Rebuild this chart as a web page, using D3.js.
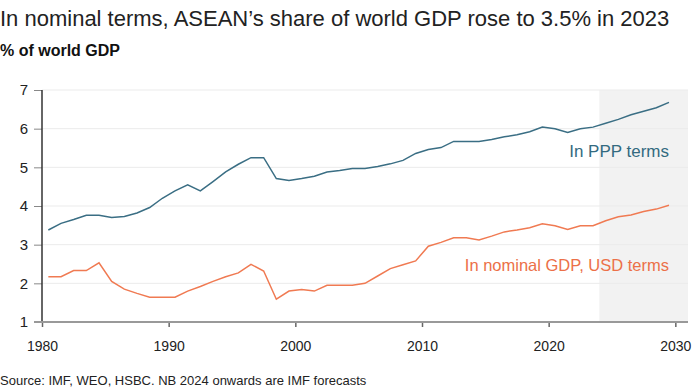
<!DOCTYPE html>
<html>
<head>
<meta charset="utf-8">
<script src="https://cdn.jsdelivr.net/npm/d3@7"></script>
<style>
  body { margin: 0; background: #fff; }
  svg text { font-family: "Liberation Sans", Arial, sans-serif; }
</style>
</head>
<body>
<div id="chart"></div>
<script>
// annual values, 1980 onwards (2024+ are IMF forecasts)
const years = d3.range(1980, 2030)
const ppp = [3.38, 3.55, 3.65, 3.76, 3.76, 3.70, 3.73, 3.82, 3.96, 4.20,
             4.39, 4.55, 4.39, 4.63, 4.88, 5.08, 5.25, 5.25, 4.71, 4.66,
             4.71, 4.77, 4.88, 4.92, 4.97, 4.97, 5.02, 5.09, 5.18, 5.36,
             5.46, 5.51, 5.67, 5.67, 5.67, 5.72, 5.79, 5.84, 5.92, 6.04,
             6.00, 5.90, 6.00, 6.04, 6.14, 6.24, 6.36, 6.45, 6.54, 6.68]
const nominal = [2.17, 2.17, 2.33, 2.33, 2.53, 2.05, 1.85, 1.74, 1.64, 1.64,
                 1.64, 1.80, 1.92, 2.05, 2.17, 2.27, 2.49, 2.32, 1.59, 1.80,
                 1.84, 1.80, 1.95, 1.95, 1.95, 2.00, 2.19, 2.38, 2.48, 2.58,
                 2.96, 3.06, 3.18, 3.18, 3.12, 3.22, 3.33, 3.38, 3.44, 3.54,
                 3.49, 3.39, 3.49, 3.49, 3.62, 3.72, 3.77, 3.86, 3.92, 4.02]
const xTicks = [1980, 1990, 2000, 2010, 2020, 2030]
const yTicks = [1, 2, 3, 4, 5, 6, 7]
const forecastStart = 2024

const width = 696, height = 390
var margin = {top: 90, right: 8, bottom: 68, left: 42}

var svg = d3.select("#chart").append("svg")
    .attr("width", width)
    .attr("height", height)

// years sit in the middle of their slot, ticks at slot edges
var x = d3.scaleLinear()
    .domain([1979.5, 2030.5])
    .range([margin.left, width - margin.right])

var y = d3.scaleLinear()
    .domain([1, 7])
    .range([height - margin.bottom, margin.top])

// titles
svg.append("text")
    .attr("x", 0).attr("y", 26)
    .style("font-size", "22px")
    .style("fill", "#222")
    .text("In nominal terms, ASEAN\u2019s share of world GDP rose to 3.5% in 2023")

svg.append("text")
    .attr("x", 0).attr("y", 56)
    .style("font-size", "16px")
    .style("font-weight", "bold")
    .style("fill", "#111")
    .text("% of world GDP")

// forecast shading
svg.append("rect")
    .attr("x", x(forecastStart - 0.5))
    .attr("y", y(7))
    .attr("width", x(2030.5) - x(forecastStart - 0.5))
    .attr("height", y(1) - y(7))
    .style("fill", "#f2f2f2")

// gridlines
svg.append("g")
  .selectAll("line")
  .data(yTicks.slice(1))
  .enter().append("line")
    .attr("x1", x(1979.5)).attr("x2", x(2030.5))
    .attr("y1", d => y(d)).attr("y2", d => y(d))
    .style("stroke", "#ebebeb")
    .style("stroke-width", 1)

// y axis
var yAxis = svg.append("g")
    .attr("transform", "translate(" + margin.left + ",0)")
    .call(d3.axisLeft(y).tickValues(yTicks).tickSize(8).tickPadding(6).tickFormat(d3.format("d")))
yAxis.select(".domain").remove()
yAxis.selectAll(".tick line").style("stroke", "#888")
yAxis.selectAll("text").style("font-size", "15px").style("fill", "#222")
yAxis.append("line")
    .attr("x1", 0).attr("x2", 0)
    .attr("y1", y(7)).attr("y2", y(1))
    .style("stroke", "#333")
    .style("stroke-width", 1.5)

// x axis
var xAxis = svg.append("g")
    .attr("transform", "translate(0," + y(1) + ")")
    .call(d3.axisBottom(x)
      .tickValues(xTicks.map(d => d - 0.5))
      .tickSize(5).tickPadding(14)
      .tickFormat(d => d3.format("d")(d + 0.5)))
xAxis.select(".domain").remove()
xAxis.selectAll(".tick line").style("stroke", "#666").style("stroke-width", 1.5)
xAxis.selectAll("text").style("font-size", "14px").style("fill", "#222")
xAxis.append("line")
    .attr("x1", 34).attr("x2", x(2030.5))
    .attr("y1", 0).attr("y2", 0)
    .style("stroke", "#999")
    .style("stroke-width", 2)

// lines
var line = d3.line()
    .x((d, i) => x(years[i]))
    .y(d => y(d))

svg.append("path")
    .datum(ppp)
    .attr("d", line)
    .style("fill", "none")
    .style("stroke", "#3a6e84")
    .style("stroke-width", 1.5)

svg.append("path")
    .datum(nominal)
    .attr("d", line)
    .style("fill", "none")
    .style("stroke", "#f07a52")
    .style("stroke-width", 1.5)

// series labels
svg.append("text")
    .attr("x", x(2029)).attr("y", 157)
    .attr("text-anchor", "end")
    .style("font-size", "17px")
    .style("fill", "#336a80")
    .text("In PPP terms")

svg.append("text")
    .attr("x", x(2029)).attr("y", 271)
    .attr("text-anchor", "end")
    .style("font-size", "16.5px")
    .style("fill", "#ec7048")
    .text("In nominal GDP, USD terms")

// source
svg.append("text")
    .attr("x", 0).attr("y", 385)
    .style("font-size", "13px")
    .style("fill", "#222")
    .text("Source: IMF, WEO, HSBC. NB 2024 onwards are IMF forecasts")
</script>
</body>
</html>
